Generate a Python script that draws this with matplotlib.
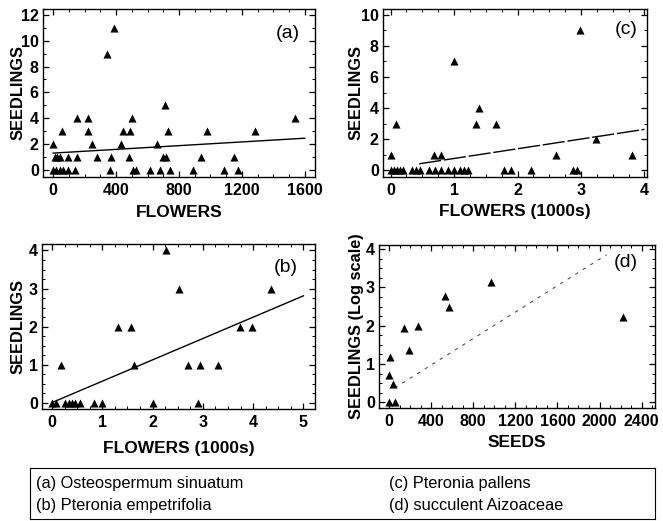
import matplotlib
matplotlib.use("Agg")
import matplotlib.pyplot as plt
import numpy as np
from matplotlib.ticker import MultipleLocator

plt.rcParams["font.family"] = ["Liberation Sans", "DejaVu Sans"]

# (a) Osteospermum sinuatum: flowers vs seedlings
a_flowers = [0, 20, 40, 60, 95, 138, 360, 508, 527, 615, 678, 742, 890, 1087, 1176,
             10, 25, 40, 95, 150, 280, 365, 480, 700, 718, 940, 1150,
             0, 244, 428, 657,
             53, 223, 445, 488, 731, 975, 1282,
             149, 223, 498, 1537,
             714, 339, 388]
a_seedlings = [0] * 15 + [1] * 12 + [2] * 4 + [3] * 7 + [4] * 4 + [5, 9, 11]
a_fit = (1.3, 0.00072)       # intercept, slope
a_fit_range = (0, 1600)

# (c) Pteronia pallens: flowers (1000s) vs seedlings
c_flowers = [0.0, 0.05, 0.1, 0.15, 0.2, 0.33, 0.4, 0.47,
             0.6, 0.7, 0.8, 0.9, 1.0, 1.1, 1.15, 1.22,
             1.78, 1.9, 2.21, 2.88, 2.94,
             0.0, 0.68, 0.79, 2.6, 3.8,
             3.23, 0.08, 1.34, 1.66, 1.39, 1.0, 2.99]
c_seedlings = [0] * 21 + [1] * 5 + [2, 3, 3, 3, 4, 7, 9]
c_fit = (0.137, 0.624)
c_fit_range = (0.45, 4.0)

# (b) Pteronia empetrifolia: flowers (1000s) vs seedlings
b_flowers = [0.0, 0.07, 0.26, 0.33, 0.4, 0.46, 0.56, 0.83, 0.99, 2.0, 2.9,
             0.17, 1.62, 2.7, 2.95, 3.3,
             1.32, 1.57, 3.73, 3.97,
             2.53, 4.35, 2.27]
b_seedlings = [0] * 11 + [1] * 5 + [2] * 4 + [3, 3, 4]
b_fit = (0.01, 0.56)
b_fit_range = (0.0, 5.0)

# (d) succulent Aizoaceae: seeds vs seedlings (log scale)
d_seeds = [0, 60, 0, 38, 7, 143, 190, 276, 536, 567, 973, 2226]
d_seedlings = [0, 0, 0.71, 0.49, 1.19, 1.94, 1.36, 2.0, 2.77, 2.48, 3.14, 2.24]
d_fit = (0.28, 0.00173)
d_fit_range = (54, 2067)

species = ["(a) Osteospermum sinuatum", "(b) Pteronia empetrifolia",
           "(c) Pteronia pallens", "(d) succulent Aizoaceae"]

W, H = 663, 521
fig = plt.figure(figsize=(W / 100, H / 100), dpi=100)


def px_axes(left, top, right, bottom):
    return fig.add_axes([left / W, 1 - bottom / H, (right - left) / W, (bottom - top) / H])


def style(ax, xmajor, xminor, ymajor, yminor):
    ax.xaxis.set_major_locator(MultipleLocator(xmajor))
    ax.xaxis.set_minor_locator(MultipleLocator(xminor))
    ax.yaxis.set_major_locator(MultipleLocator(ymajor))
    ax.yaxis.set_minor_locator(MultipleLocator(yminor))
    ax.tick_params(which="both", direction="in", top=True, right=True)
    ax.tick_params(which="major", length=4, width=0.9, labelsize=11.5, pad=4)
    ax.tick_params(which="minor", length=2, width=0.7)
    ax.tick_params(axis="y", which="major", pad=3)
    for lab in ax.get_xticklabels() + ax.get_yticklabels():
        lab.set_fontweight("bold")
    for s in ax.spines.values():
        s.set_linewidth(1.0)


def labels(ax, xlabel, ylabel, xl_y, yl_x):
    ax.set_xlabel(xlabel, fontsize=12.5, fontweight="bold")
    ax.set_ylabel(ylabel, fontsize=11.8, fontweight="bold")
    ax.xaxis.set_label_coords(0.5, xl_y)
    ax.yaxis.set_label_coords(yl_x, 0.5)
    ax.xaxis.label.set_va("center")
    ax.yaxis.label.set_va("center")


def fit_line(ax, fit, rng, **kw):
    xs = np.array(rng, dtype=float)
    ax.plot(xs, fit[0] + fit[1] * xs, color="black", **kw)


mk = dict(marker="^", color="black", s=34, linewidths=0, zorder=3)

# (a)
ax = px_axes(43, 9, 315, 177)
ax.scatter(a_flowers, a_seedlings, **mk)
fit_line(ax, a_fit, a_fit_range, lw=1.0)
ax.set_xlim(-65, 1665)
ax.set_ylim(-0.55, 12.45)
style(ax, 400, 100, 2, 1)
labels(ax, "FLOWERS", "SEEDLINGS", -0.21, -0.093)
ax.text(0.945, 0.857, "(a)", transform=ax.transAxes, fontsize=14, ha="right", va="center")

# (c)
ax = px_axes(383, 9, 647, 177)
ax.scatter(c_flowers, c_seedlings, **mk)
fit_line(ax, c_fit, c_fit_range, lw=1.0, dashes=(16, 2))
ax.set_xlim(-0.12, 4.04)
ax.set_ylim(-0.43, 10.37)
style(ax, 1, 0.25, 2, 1)
labels(ax, "FLOWERS (1000s)", "SEEDLINGS", -0.205, -0.104)
ax.text(0.966, 0.875, "(c)", transform=ax.transAxes, fontsize=14, ha="right", va="center")

# (b)
ax = px_axes(42, 244, 315, 409)
ax.scatter(b_flowers, b_seedlings, **mk)
fit_line(ax, b_fit, b_fit_range, lw=1.0)
ax.set_xlim(-0.2, 5.23)
ax.set_ylim(-0.16, 4.17)
style(ax, 1, 0.25, 1, 0.25)
labels(ax, "FLOWERS (1000s)", "SEEDLINGS", -0.24, -0.086)
ax.text(0.938, 0.855, "(b)", transform=ax.transAxes, fontsize=14, ha="right", va="center")

# (d)
ax = px_axes(379, 245, 655, 408)
ax.scatter(d_seeds, d_seedlings, **mk)
fit_line(ax, d_fit, d_fit_range, lw=0.8, dashes=(3, 5), alpha=0.7)
ax.set_xlim(-95, 2527)
ax.set_ylim(-0.15, 4.11)
style(ax, 400, 100, 1, 0.25)
labels(ax, "SEEDS", "SEEDLINGS (Log scale)", -0.21, -0.08)
ax.text(0.938, 0.89, "(d)", transform=ax.transAxes, fontsize=14, ha="right", va="center")

# species key
key = fig.add_axes([30 / W, 1 - 519 / H, 625 / W, 51 / H])
key.set_xticks([])
key.set_yticks([])
for s in key.spines.values():
    s.set_linewidth(0.8)
pos = [(0.01, 0.70), (0.01, 0.27), (0.575, 0.70), (0.575, 0.27)]
for name, (x, y) in zip(species, pos):
    key.text(x, y, name, transform=key.transAxes, fontsize=11.8, va="center", ha="left")

fig.savefig("out.png", dpi=100)
